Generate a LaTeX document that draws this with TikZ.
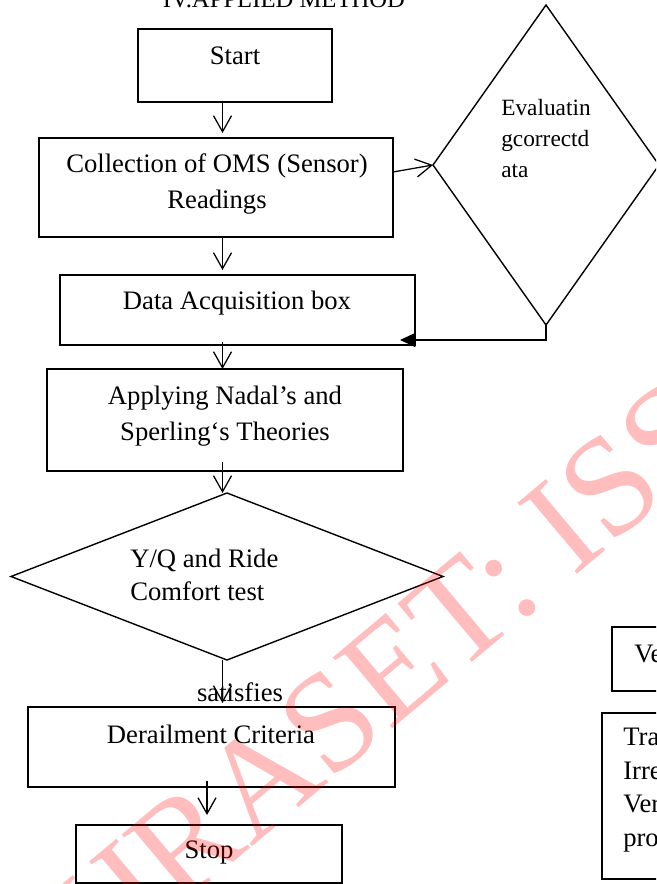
\documentclass[tikz,border=0pt]{standalone}
\usepackage{fontspec}
\setmainfont{Liberation Serif}
\usetikzlibrary{arrows.meta,shapes.geometric,calc}
\begin{document}
\begin{tikzpicture}[x=0.75pt,y=-0.75pt,
  box/.style={draw,line width=1.05pt,rectangle,inner sep=0pt,outer sep=0pt},
  dia/.style={draw,line width=1.05pt,diamond,inner sep=0pt,outer sep=0pt},
  txt/.style={font=\fontsize{20pt}{27pt}\selectfont,inner sep=0pt,align=center},
  ltxt/.style={font=\fontsize{20pt}{25pt}\selectfont,inner sep=0pt,align=left},
  etxt/.style={font=\fontsize{17.5pt}{23.25pt}\selectfont,inner sep=0pt,align=left},
  arr/.style={line width=0.95pt,-{Straight Barb[length=12pt,width=13.5pt,line width=0.95pt]}},
  fb/.style={line width=0.95pt,-{Triangle[length=11.5pt,width=10.5pt]}},
  wm/.style={font=\fontsize{106pt}{106pt}\selectfont,text=red,opacity=0.26,inner sep=0pt}]
\useasboundingbox (0,0) rectangle (656,884);
\clip (0,0) rectangle (656,884);
\fill[white] (0,0) rectangle (656,884);

% title (cut off at the top)
\node[font=\fontsize{18.5pt}{22pt}\selectfont,anchor=base,inner sep=0pt] (title) at (284,7.5) {IV.APPLIED METHOD};

% boxes
\node[box,minimum width=145.5pt,minimum height=54.75pt] (start) at (235,65.5) {};
\node[txt] (starttxt) at (235,56) {Start};

\node[box,minimum width=265.5pt,minimum height=74.25pt] (coll) at (216,187.5) {};
\node[txt] (colltxt) at (217,184) {Collection of OMS (Sensor)\\Readings};

\node[box,minimum width=266.25pt,minimum height=52.5pt] (da) at (237.5,310) {};
\node[txt] (datxt) at (237,303) {Data Acquisition box};

\node[box,minimum width=267pt,minimum height=76.5pt] (apply) at (225,420) {};
\node[txt] (applytxt) at (225,416) {Applying Nadal’s and\\Sperling‘s Theories};

\node[dia,minimum width=324pt,minimum height=125.25pt] (yq) at (227,576.5) {};
\node[ltxt,anchor=west] (yqtxt) at (130,575) {Y/Q and Ride\\Comfort test};

\node[box,minimum width=275.25pt,minimum height=60pt] (derail) at (211.5,747) {};
\node[txt] (derailtxt) at (211,734) {Derailment Criteria};

\node[box,minimum width=199.5pt,minimum height=43.5pt] (stop) at (209,854) {};
\node[txt] (stoptxt) at (209,852) {Stop};

\node[dia,minimum width=169.5pt,minimum height=240pt] (eval) at (546,165) {};
\node[etxt,anchor=west] (evaltxt) at (501,139) {Evaluatin\\gcorrectd\\ata};

% right-hand boxes, cut off by the edge
\node[box,minimum width=66pt,minimum height=48pt] (vebox) at (656,659) {};
\node[txt,anchor=west] (vetxt) at (634,654) {Ve};
\node[box,minimum width=73.5pt,minimum height=124.5pt] (trbox) at (651,796) {};
\node[font=\fontsize{20pt}{25.2pt}\selectfont,inner sep=0pt,align=left,anchor=west] (trtxt) at (623,790) {Tra\\Irre\\Ver\\pro};

% connectors
\coordinate (spine) at (222.5,0);
\coordinate (spine2) at (207,0);
\draw[arr,shorten >=3.75pt] (start.south -| spine) -- (coll.north -| spine);
\draw[arr,shorten >=3.75pt] (coll.south -| spine) -- (da.north -| spine);
\draw[arr,shorten <=-2.25pt] (da.south -| spine) -- (apply.north -| spine);
\draw[arr,shorten <=-6.75pt] (apply.south -| spine) -- (yq.north -| spine);
\draw[arr,shorten >=3pt] (yq.south -| spine) -- (derail.north -| spine);
\draw[arr,shorten <=-4.5pt,shorten >=7.5pt] (derail.south -| spine2) -- (stop.north -| spine2);
\draw[arr] ($(coll.east)+(0,-15.5)$) -- (eval.west);
\coordinate (fbend) at ($(da.east)+(-15,30)$);
\draw[fb] (eval.south) -- ++(0,15) -- (fbend);
\node[txt] (sat) at (240,692) {satisfies};

% watermark
\node[wm,rotate=40] (wmark) at (425,642) {IJRASET: ISSN};
\end{tikzpicture}
\end{document}
